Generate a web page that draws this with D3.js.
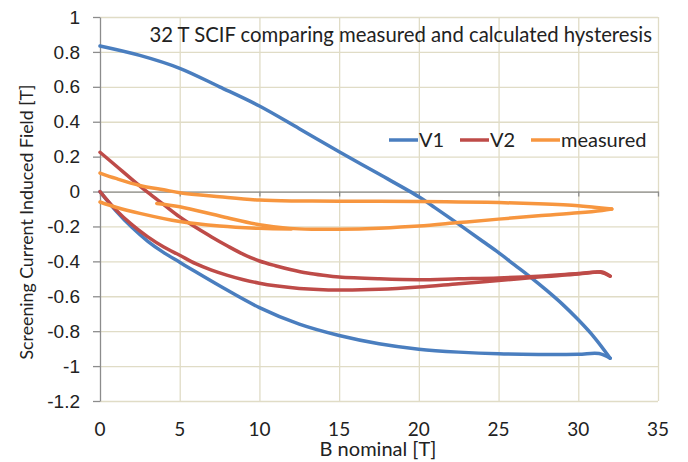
<!DOCTYPE html>
<html>
<head>
<meta charset="utf-8">
<title>32 T SCIF hysteresis</title>
<script src="https://cdn.jsdelivr.net/npm/d3@7"></script>
<style>
  body { margin: 0; background: #fff; }
  svg { display: block; font-family: Lato, "Open Sans", sans-serif; }
  .grid line { stroke: #e0dcc6; stroke-width: 1.3; }
  .grid path { display: none; }
  .axis path, .axis line { stroke: #8c8c8c; stroke-width: 1.3; }
  .axis text { fill: #222; font-size: 19px; }
</style>
</head>
<body>
<script>
// values: [B nominal (T), field (T)]
var v1Up = [[0,0],[1,-0.11],[2,-0.205],[3,-0.285],[4,-0.35],[5,-0.405],[6,-0.46],[7.5,-0.54],
  [10,-0.665],[12.5,-0.76],[15,-0.825],[17.5,-0.872],[20,-0.903],[22.5,-0.92],[25,-0.93],
  [27.5,-0.933],[30,-0.932],[31.3,-0.928],[32,-0.955]];
var v1Down = [[32,-0.955],[31,-0.835],[30,-0.735],[29,-0.645],[28,-0.565],[27,-0.49],
  [26,-0.42],[25,-0.35],[24,-0.285],[23,-0.22],[22,-0.155],[21,-0.092],[20,-0.03],[17.5,0.1],
  [15,0.228],[12.5,0.36],[10,0.49],[7.5,0.6],[5,0.706],[2.5,0.78],[0,0.834]];

var v2Up = [[0,0],[1,-0.105],[2,-0.19],[3,-0.26],[4,-0.318],[5,-0.365],[6,-0.413],[7,-0.45],
  [8,-0.48],[9,-0.505],[10,-0.525],[11,-0.54],[12.5,-0.555],[15,-0.564],[17.5,-0.56],
  [20,-0.547],[22.5,-0.528],[25,-0.51],[27.5,-0.49],[30,-0.473],[31,-0.463],[31.5,-0.46],
  [32,-0.485]];
var v2Down = [[32,-0.485],[31.4,-0.462],[30,-0.47],[27.5,-0.485],[25,-0.495],[22.5,-0.5],
  [20,-0.505],[17.5,-0.5],[15,-0.49],[14,-0.48],[13,-0.467],[12,-0.448],[11,-0.425],
  [10,-0.398],[9,-0.36],[8,-0.312],[7,-0.26],[6,-0.205],[5,-0.145],[4,-0.075],[3,-0.005],
  [2,0.07],[1,0.148],[0,0.225]];

var measuredUp1 = [[3.56,-0.068],[5,-0.087],[7.7,-0.144],[10,-0.19],[11.9,-0.211],[13.5,-0.216],
  [15,-0.216],[17.5,-0.21],[20,-0.198],[22.5,-0.178],[25,-0.158],[27.5,-0.139],[30,-0.122],
  [31.5,-0.108],[32.1,-0.1]];
var measuredDown = [[32.1,-0.1],[31,-0.09],[30,-0.081],[27.5,-0.07],[25,-0.063],[22.5,-0.06],
  [20,-0.057],[15,-0.055],[12.5,-0.054],[10,-0.049],[7.5,-0.03],[5,-0.007],[4,0.01],
  [2.5,0.035],[1,0.075],[0,0.106]];
var measuredUp2 = [[0,-0.06],[1,-0.09],[2.5,-0.125],[5,-0.172],[7.5,-0.198],[10,-0.211],[12,-0.215]];

var seriesNames = ["V1", "V2", "measured"];
var seriesColors = ["#4a7ebf", "#be4b48", "#f7963f"];
var xTicks = [0, 5, 10, 15, 20, 25, 30, 35];
var yTicks = [-1.2, -1, -0.8, -0.6, -0.4, -0.2, 0, 0.2, 0.4, 0.6, 0.8, 1];

var width = 688, height = 462;
var svg = d3.select("body").append("svg").attr("width", width).attr("height", height);

var x = d3.scaleLinear().domain([0, 35]).range([100, 658]);
var y = d3.scaleLinear().domain([-1.2, 1]).range([401, 17]);

// scale a text's font size so it spans the given width
function fitText(sel, w) {
  var len = sel.node().getComputedTextLength();
  var fs = parseFloat(sel.style("font-size"));
  sel.style("font-size", (fs * w / len) + "px");
}

// gridlines
svg.append("g").attr("class", "grid")
  .attr("transform", "translate(0," + y(-1.2) + ")")
  .call(d3.axisBottom(x).tickValues(xTicks.slice(1)).tickSize(-(y(-1.2) - y(1))).tickFormat(""));
svg.append("g").attr("class", "grid")
  .attr("transform", "translate(" + x(0) + ",0)")
  .call(d3.axisLeft(y).tickValues(yTicks).tickSize(-(x(35) - x(0))).tickFormat(""));

// y axis
svg.append("g").attr("class", "axis")
  .attr("transform", "translate(" + x(0) + ",0)")
  .call(d3.axisLeft(y).tickValues(yTicks).tickSize(7).tickPadding(13).tickSizeOuter(0)
    .tickFormat(function(d) { return d; }));

// x axis line at zero, tick marks only
svg.append("g").attr("class", "axis")
  .attr("transform", "translate(0," + y(0) + ")")
  .call(d3.axisBottom(x).tickValues(xTicks).tickSize(5).tickSizeOuter(0).tickFormat(""));

// x tick labels under the plot
svg.append("g").selectAll("text").data(xTicks).enter().append("text")
  .attr("x", function(d) { return x(d); })
  .attr("y", 436)
  .attr("text-anchor", "middle")
  .attr("fill", "#222")
  .style("font-size", "19px")
  .text(function(d) { return d; });

// lines
var line = d3.line()
  .x(function(d) { return x(d[0]); })
  .y(function(d) { return y(d[1]); })
  .curve(d3.curveCatmullRom.alpha(0.5));

var paths = [
  { data: v1Up, c: 0 }, { data: v1Down, c: 0 },
  { data: v2Up, c: 1 }, { data: v2Down, c: 1 },
  { data: measuredUp1, c: 2 }, { data: measuredDown, c: 2 }, { data: measuredUp2, c: 2 }
];
svg.append("g").selectAll("path").data(paths).enter().append("path")
  .attr("d", function(d) { return line(d.data); })
  .attr("fill", "none")
  .attr("stroke", function(d) { return seriesColors[d.c]; })
  .attr("stroke-width", 3.5)
  .attr("stroke-linejoin", "round")
  .attr("stroke-linecap", "round");

// title
var title = svg.append("text")
  .attr("x", 652).attr("y", 42)
  .attr("text-anchor", "end")
  .attr("fill", "#222")
  .style("font-size", "18px")
  .text("32 T SCIF comparing measured and calculated hysteresis");
fitText(title, 503);

// axis titles
var xTitle = svg.append("text")
  .attr("x", 378).attr("y", 456)
  .attr("text-anchor", "middle")
  .attr("fill", "#222")
  .style("font-size", "19px")
  .text("B nominal [T]");
fitText(xTitle, 117);

var yTitle = svg.append("text")
  .attr("transform", "translate(33,222) rotate(-90)")
  .attr("text-anchor", "middle")
  .attr("fill", "#222")
  .style("font-size", "16px")
  .text("Screening Current Induced Field [T]");
fitText(yTitle, 275);

// legend
var legendX = [389, 460, 531];
var legend = svg.append("g").selectAll("g").data(seriesNames).enter().append("g")
  .attr("transform", function(d, i) { return "translate(" + legendX[i] + ",140)"; });
legend.append("line")
  .attr("x1", 0).attr("x2", 29)
  .attr("stroke", function(d, i) { return seriesColors[i]; })
  .attr("stroke-width", 3.5);
legend.append("text")
  .attr("x", 30).attr("y", 7)
  .attr("fill", "#222")
  .style("font-size", "20px")
  .text(function(d) { return d; });
</script>
</body>
</html>
